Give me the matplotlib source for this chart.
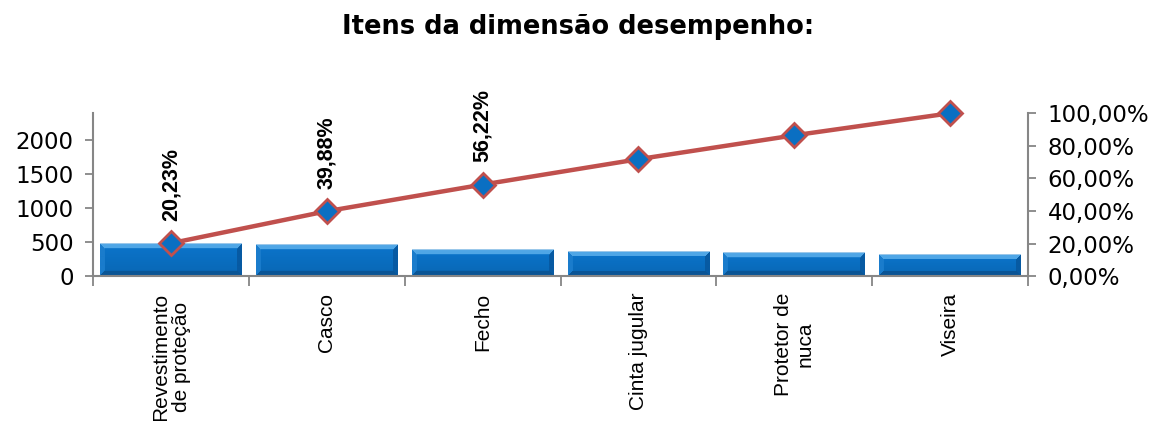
import numpy as np
import matplotlib.pyplot as plt
from matplotlib.colors import to_rgb
from matplotlib.ticker import FuncFormatter, FixedLocator

# itens avaliados, frequência de citações e percentual acumulado (Pareto)
itens = ["Revestimento\nde proteção", "Casco", "Fecho",
         "Cinta jugular", "Protetor de\nnuca", "Viseira"]
frequencia = [475, 461, 384, 366, 344, 318]
acumulado = [20.23, 39.88, 56.22, 71.81, 86.46, 100.0]
n_rotulos = 3  # só os três primeiros pontos levam rótulo

AZUL = "#0a6fc2"
VERMELHO = "#c0504d"
CINZA = "#868686"


def barra_chanfrada(ax, x0, x1, h, chanfro=5):
    """Desenha uma barra com aspecto chanfrado (estilo Excel) via imshow."""
    (px0, py0), (px1, py1) = ax.transData.transform([(x0, 0), (x1, h)])
    w = max(int(round(px1 - px0)), 4)
    hh = max(int(round(py1 - py0)), 4)
    lin, col = np.mgrid[0:hh, 0:w]
    d = np.stack([lin, hh - 1 - lin, col, w - 1 - col])
    face = np.argmin(d, axis=0)
    dmin = np.min(d, axis=0)

    cores = {
        0: np.array(to_rgb("#4fa6e6")),   # topo
        1: np.array(to_rgb("#0a5595")),   # base
        2: np.array(to_rgb("#1a7ccc")),   # lado esquerdo
        3: np.array(to_rgb("#075aa3")),   # lado direito
    }
    img = np.tile(np.array(to_rgb(AZUL)), (hh, w, 1))
    # leve gradiente vertical no miolo
    t = (lin / max(hh - 1, 1))[..., None]
    img = img * (1.05 - 0.12 * t)
    for k in range(4):
        m = (dmin < chanfro) & (face == k)
        img[m] = cores[k]
    img[0, :] = to_rgb("#9cc8ea")
    img = np.clip(img, 0, 1)
    ax.imshow(img, extent=[x0, x1, 0, h], aspect="auto", origin="upper",
              interpolation="bilinear", zorder=2)


fig = plt.figure(figsize=(11.63, 4.21), dpi=100)
ax = fig.add_axes([0.080, 0.344, 0.804, 0.387])

x = np.arange(len(itens))
largura = 0.91
ax.set_xlim(-0.5, len(itens) - 0.5)
ax.set_ylim(0, 2400)

for xi, v in zip(x, frequencia):
    barra_chanfrada(ax, xi - largura / 2, xi + largura / 2, v)

ax.set_xlim(-0.5, len(itens) - 0.5)
ax.set_ylim(0, 2400)

ax.yaxis.set_major_locator(FixedLocator([0, 500, 1000, 1500, 2000]))
ax.tick_params(axis="y", labelsize=16.5, length=6, width=1.3, color=CINZA, pad=8)

ax.set_xticks(x)
ax.set_xticklabels(itens, rotation=90, fontsize=15, family="Liberation Sans",
                   va="top", ha="center", linespacing=1.15)
ax.tick_params(axis="x", length=0, pad=12)
ax.set_xticks(np.arange(-0.5, len(itens)), minor=True)
ax.tick_params(axis="x", which="minor", length=7, width=1.3, color=CINZA)

for lado in ["top", "right"]:
    ax.spines[lado].set_visible(False)
for lado in ["left", "bottom"]:
    ax.spines[lado].set_color(CINZA)
    ax.spines[lado].set_linewidth(1.5)

# eixo secundário com o percentual acumulado
ax2 = ax.twinx()
ax2.set_ylim(0, 1)
ax2.yaxis.set_major_locator(FixedLocator(np.linspace(0, 1, 6)))
ax2.yaxis.set_major_formatter(
    FuncFormatter(lambda v, _: f"{v * 100:.2f}%".replace(".", ",")))
ax2.tick_params(axis="y", labelsize=16.5, length=6, width=1.3, color=CINZA, pad=8)
for lado in ["top", "left", "bottom"]:
    ax2.spines[lado].set_visible(False)
ax2.spines["right"].set_color(CINZA)
ax2.spines["right"].set_linewidth(1.5)

pct = np.array(acumulado) / 100
ax2.plot(x, pct, color=VERMELHO, lw=3.2, marker="D", ms=12,
         mfc=AZUL, mec=VERMELHO, mew=2, zorder=3, clip_on=False)

for xi, v in zip(x[:n_rotulos], acumulado[:n_rotulos]):
    ax2.annotate(f"{v:.2f}%".replace(".", ","), (xi, v / 100),
                 xytext=(0, 16), textcoords="offset points",
                 rotation=90, ha="center", va="bottom", fontsize=15.5,
                 fontweight="bold", family="Liberation Sans")

fig.text(0.497, 0.936, "Itens da dimensão desempenho:", ha="center",
         va="center", fontsize=18.5, fontweight="bold", family="DejaVu Sans")

fig.savefig("out.png", dpi=100)
